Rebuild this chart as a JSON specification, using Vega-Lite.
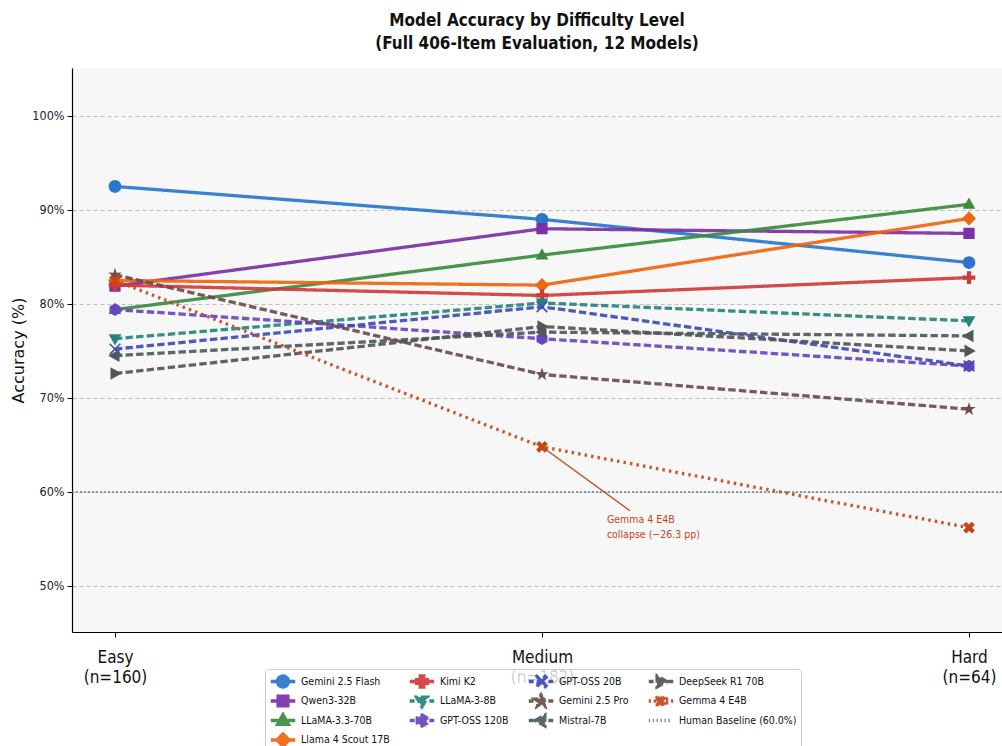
{
  "$schema": "https://vega.github.io/schema/vega-lite/v6.json",
  "width": 930,
  "height": 564,
  "autosize": {"type": "none"},
  "padding": {"left": 72, "top": 68, "right": 0, "bottom": 114},
  "background": "white",
  "title": {
    "text": ["Model Accuracy by Difficulty Level", "(Full 406-Item Evaluation, 12 Models)"],
    "font": "DejaVu Sans Condensed",
    "fontSize": 17,
    "fontWeight": "bold",
    "color": "#111111",
    "anchor": "middle",
    "offset": 15,
    "lineHeight": 23
  },
  "config": {
    "view": {"fill": "#f7f7f7", "stroke": null},
    "font": "DejaVu Sans Condensed"
  },
  "datasets": {
    "acc": [
      {"model": "Gemini 2.5 Flash", "x": 0, "acc": 92.5},
      {"model": "Gemini 2.5 Flash", "x": 1, "acc": 89.0},
      {"model": "Gemini 2.5 Flash", "x": 2, "acc": 84.4},
      {"model": "Qwen3-32B", "x": 0, "acc": 81.9},
      {"model": "Qwen3-32B", "x": 1, "acc": 88.0},
      {"model": "Qwen3-32B", "x": 2, "acc": 87.5},
      {"model": "LLaMA-3.3-70B", "x": 0, "acc": 79.4},
      {"model": "LLaMA-3.3-70B", "x": 1, "acc": 85.2},
      {"model": "LLaMA-3.3-70B", "x": 2, "acc": 90.6},
      {"model": "Llama 4 Scout 17B", "x": 0, "acc": 82.5},
      {"model": "Llama 4 Scout 17B", "x": 1, "acc": 82.0},
      {"model": "Llama 4 Scout 17B", "x": 2, "acc": 89.1},
      {"model": "Kimi K2", "x": 0, "acc": 82.0},
      {"model": "Kimi K2", "x": 1, "acc": 80.9},
      {"model": "Kimi K2", "x": 2, "acc": 82.8},
      {"model": "LLaMA-3-8B", "x": 0, "acc": 76.3},
      {"model": "LLaMA-3-8B", "x": 1, "acc": 80.1},
      {"model": "LLaMA-3-8B", "x": 2, "acc": 78.2},
      {"model": "GPT-OSS 120B", "x": 0, "acc": 79.4},
      {"model": "GPT-OSS 120B", "x": 1, "acc": 76.3},
      {"model": "GPT-OSS 120B", "x": 2, "acc": 73.4},
      {"model": "GPT-OSS 20B", "x": 0, "acc": 75.2},
      {"model": "GPT-OSS 20B", "x": 1, "acc": 79.7},
      {"model": "GPT-OSS 20B", "x": 2, "acc": 73.4},
      {"model": "Gemini 2.5 Pro", "x": 0, "acc": 83.1},
      {"model": "Gemini 2.5 Pro", "x": 1, "acc": 72.5},
      {"model": "Gemini 2.5 Pro", "x": 2, "acc": 68.8},
      {"model": "Mistral-7B", "x": 0, "acc": 74.5},
      {"model": "Mistral-7B", "x": 1, "acc": 77.0},
      {"model": "Mistral-7B", "x": 2, "acc": 76.6},
      {"model": "DeepSeek R1 70B", "x": 0, "acc": 72.6},
      {"model": "DeepSeek R1 70B", "x": 1, "acc": 77.6},
      {"model": "DeepSeek R1 70B", "x": 2, "acc": 75.0},
      {"model": "Gemma 4 E4B", "x": 0, "acc": 82.5},
      {"model": "Gemma 4 E4B", "x": 1, "acc": 64.8},
      {"model": "Gemma 4 E4B", "x": 2, "acc": 56.2}
    ]
  },
  "layer": [
    {
      "data": {"name": "acc"},
      "mark": {"type": "line", "opacity": 0.92},
      "encoding": {
        "x": {
          "field": "x", "type": "quantitative", "title": null,
          "scale": {"domain": [-0.1007, 2.0773], "nice": false, "zero": false},
          "axis": {
            "values": [0, 1, 2],
            "labelExpr": "datum.value == 0 ? ['Easy', '(n=160)'] : datum.value == 1 ? ['Medium', '(n=182)'] : ['Hard', '(n=64)']",
            "grid": false,
            "domainColor": "#000000", "domainWidth": 1.2,
            "tickColor": "#000000", "tickSize": 5, "tickWidth": 1,
            "labelFont": "DejaVu Sans Condensed", "labelFontSize": 17, "labelColor": "#111111",
            "labelPadding": 12, "labelLineHeight": 20, "labelFlush": false, "labelOverlap": false
          }
        },
        "y": {
          "field": "acc", "type": "quantitative", "title": "Accuracy (%)",
          "scale": {"domain": [45.1, 105.1], "nice": false, "zero": false},
          "axis": {
            "values": [50, 60, 70, 80, 90, 100],
            "labelExpr": "datum.value + '%'",
            "grid": true, "gridDash": [4, 3], "gridColor": "#b5b5b5", "gridWidth": 0.9,
            "domainColor": "#000000", "domainWidth": 1.2,
            "tickColor": "#000000", "tickSize": 5,
            "labelFont": "DejaVu Sans Condensed", "labelFontSize": 12.5, "labelColor": "#222222", "labelPadding": 3,
            "titleFont": "DejaVu Sans", "titleFontSize": 16, "titleFontWeight": "normal", "titleColor": "#111111",
            "titleX": -54, "titleY": 282, "titleAngle": 270, "titleAlign": "center", "titleBaseline": "middle"
          }
        },
        "color": {
          "field": "model", "type": "nominal",
          "scale": {
            "domain": ["Gemini 2.5 Flash", "Kimi K2", "GPT-OSS 20B", "DeepSeek R1 70B", "Qwen3-32B", "LLaMA-3-8B", "Gemini 2.5 Pro", "Gemma 4 E4B", "LLaMA-3.3-70B", "GPT-OSS 120B", "Mistral-7B", "Human Baseline (60.0%)", "Llama 4 Scout 17B"],
            "range": ["#2976cc", "#d23a3a", "#3f4bb8", "#555555", "#7b2fa8", "#24857a", "#6d4c4c", "#c8451b", "#3a8c3f", "#6746c0", "#4e5a60", "#888888", "#f0650f"]
          }
        },
        "strokeDash": {
          "field": "model", "type": "nominal", "legend": null,
          "scale": {
            "domain": ["Gemini 2.5 Flash", "Kimi K2", "GPT-OSS 20B", "DeepSeek R1 70B", "Qwen3-32B", "LLaMA-3-8B", "Gemini 2.5 Pro", "Gemma 4 E4B", "LLaMA-3.3-70B", "GPT-OSS 120B", "Mistral-7B", "Human Baseline (60.0%)", "Llama 4 Scout 17B"],
            "range": [[1, 0], [1, 0], [7.4, 3.2], [7.4, 3.2], [1, 0], [7.4, 3.2], [7.4, 3.2], [2.5, 4.1], [1, 0], [7.4, 3.2], [7.4, 3.2], [2, 2], [1, 0]]
          }
        },
        "strokeWidth": {
          "field": "model", "type": "nominal", "legend": null,
          "scale": {
            "domain": ["Gemini 2.5 Flash", "Kimi K2", "GPT-OSS 20B", "DeepSeek R1 70B", "Qwen3-32B", "LLaMA-3-8B", "Gemini 2.5 Pro", "Gemma 4 E4B", "LLaMA-3.3-70B", "GPT-OSS 120B", "Mistral-7B", "Human Baseline (60.0%)", "Llama 4 Scout 17B"],
            "range": [3.3, 3.3, 2.3, 2.3, 3.3, 2.3, 2.3, 2.7, 3.3, 2.3, 2.3, 1.5, 3.3]
          }
        },
        "order": {"field": "x", "type": "quantitative"}
      }
    },
    {
      "data": {"values": [{"baseline": 60}]},
      "mark": {"type": "rule", "color": "#7a7a7a", "strokeWidth": 1.5, "strokeDash": [2, 2]},
      "encoding": {
        "y": {"field": "baseline", "type": "quantitative", "title": "Accuracy (%)"}
      }
    },
    {
      "data": {"name": "acc"},
      "mark": {"type": "point", "filled": true, "opacity": 1, "size": 790},
      "encoding": {
        "x": {"field": "x", "type": "quantitative", "title": null},
        "y": {"field": "acc", "type": "quantitative", "title": "Accuracy (%)"},
        "color": {
          "field": "model", "type": "nominal",
          "scale": {
            "domain": ["Gemini 2.5 Flash", "Kimi K2", "GPT-OSS 20B", "DeepSeek R1 70B", "Qwen3-32B", "LLaMA-3-8B", "Gemini 2.5 Pro", "Gemma 4 E4B", "LLaMA-3.3-70B", "GPT-OSS 120B", "Mistral-7B", "Human Baseline (60.0%)", "Llama 4 Scout 17B"],
            "range": ["#2976cc", "#d23a3a", "#3f4bb8", "#555555", "#7b2fa8", "#24857a", "#6d4c4c", "#c8451b", "#3a8c3f", "#6746c0", "#4e5a60", "#888888", "#f0650f"]
          },
          "legend": {
            "title": null,
            "orient": "none", "legendX": 193, "legendY": 601,
            "direction": "horizontal",
            "columns": 4, "columnPadding": 18, "rowPadding": 2.5, "clipHeight": 17,
            "symbolSize": 600, "symbolStrokeWidth": 2,
            "labelFont": "DejaVu Sans Condensed", "labelFontSize": 10.5, "labelColor": "#111111", "labelOffset": 4,
            "padding": 4, "strokeColor": "#cccccc", "fillColor": "rgba(255,255,255,0.8)", "cornerRadius": 3,
            "encode": {
              "symbols": {
                "enter": {"size": {"value": 600}},
                "update": {
                  "size": {"value": 600},
                  "stroke": {"scale": "color", "field": "value"},
                  "strokeWidth": {"signal": "datum.value === 'Human Baseline (60.0%)' ? 1.3 : 2"},
                  "opacity": {"value": 1}
                }
              }
            }
          }
        },
        "shape": {
          "field": "model", "type": "nominal",
          "scale": {
            "domain": ["Gemini 2.5 Flash", "Kimi K2", "GPT-OSS 20B", "DeepSeek R1 70B", "Qwen3-32B", "LLaMA-3-8B", "Gemini 2.5 Pro", "Gemma 4 E4B", "LLaMA-3.3-70B", "GPT-OSS 120B", "Mistral-7B", "Human Baseline (60.0%)", "Llama 4 Scout 17B"],
            "range": [
              "M-1,0L1,0M-0.45,0A0.45,0.45,0,1,1,0.45,0A0.45,0.45,0,1,1,-0.45,0Z",
              "M-1,0L1,0M-0.15,-0.45L0.15,-0.45L0.15,-0.15L0.45,-0.15L0.45,0.15L0.15,0.15L0.15,0.45L-0.15,0.45L-0.15,0.15L-0.45,0.15L-0.45,-0.15L-0.15,-0.15Z",
              "M-1,0L-0.6,0M-0.35,0L0.35,0M0.6,0L1,0M-0.42,-0.34L-0.34,-0.42L0,-0.08L0.34,-0.42L0.42,-0.34L0.08,0L0.42,0.34L0.34,0.42L0,0.08L-0.34,0.42L-0.42,0.34L-0.08,0Z",
              "M-1,0L-0.6,0M-0.35,0L0.35,0M0.6,0L1,0M0.48,0L-0.32,-0.45L-0.32,0.45Z",
              "M-1,0L1,0M-0.4,-0.4L0.4,-0.4L0.4,0.4L-0.4,0.4Z",
              "M-1,0L-0.6,0M-0.35,0L0.35,0M0.6,0L1,0M0,0.48L0.45,-0.32L-0.45,-0.32Z",
              "M-1,0L-0.6,0M-0.35,0L0.35,0M0.6,0L1,0M0,-0.5L0.112,-0.154L0.476,-0.155L0.181,0.059L0.294,0.405L0,0.19L-0.294,0.405L-0.181,0.059L-0.476,-0.155L-0.112,-0.154Z",
              "M-1,0L-0.82,0M-0.6,0L-0.42,0M0.42,0L0.6,0M0.82,0L1,0M-0.42,-0.2L-0.2,-0.42L0,-0.22L0.2,-0.42L0.42,-0.2L0.22,0L0.42,0.2L0.2,0.42L0,0.22L-0.2,0.42L-0.42,0.2L-0.22,0Z",
              "M-1,0L1,0M0,-0.48L0.45,0.32L-0.45,0.32Z",
              "M-1,0L-0.6,0M-0.35,0L0.35,0M0.6,0L1,0M0,-0.45L0.39,-0.225L0.39,0.225L0,0.45L-0.39,0.225L-0.39,-0.225Z",
              "M-1,0L-0.6,0M-0.35,0L0.35,0M0.6,0L1,0M-0.48,0L0.32,-0.45L0.32,0.45Z",
              "M-1,0L-0.88,0M-0.68,0L-0.56,0M-0.36,0L-0.24,0M-0.04,0L0.08,0M0.28,0L0.4,0M0.6,0L0.72,0",
              "M-1,0L1,0M0,-0.5L0.5,0L0,0.5L-0.5,0Z"
            ]
          }
        }
      }
    },
    {
      "data": {"values": [{"ax": 1.0, "ay": 64.8, "ax2": 1.206, "ay2": 58.0}]},
      "mark": {"type": "rule", "color": "#c8451b", "strokeWidth": 1.3},
      "encoding": {
        "x": {"field": "ax", "type": "quantitative", "title": null},
        "y": {"field": "ay", "type": "quantitative", "title": "Accuracy (%)"},
        "x2": {"field": "ax2"},
        "y2": {"field": "ay2"}
      }
    },
    {
      "data": {"values": [{"tx": 1.152, "ty": 57.6, "label": "Gemma 4 E4B\ncollapse (−26.3 pp)"}]},
      "mark": {"type": "text", "align": "left", "baseline": "top", "fontSize": 10.5, "lineHeight": 15, "lineBreak": "\n", "color": "#c8451b", "font": "DejaVu Sans Condensed"},
      "encoding": {
        "x": {"field": "tx", "type": "quantitative", "title": null},
        "y": {"field": "ty", "type": "quantitative", "title": "Accuracy (%)"},
        "text": {"field": "label", "type": "nominal"}
      }
    }
  ]
}
